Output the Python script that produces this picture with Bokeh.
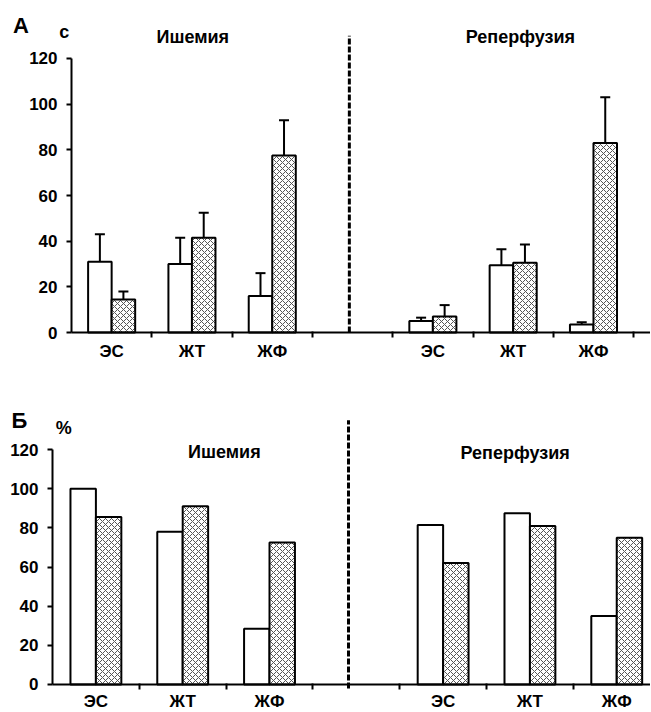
from bokeh.plotting import figure
from bokeh.models import (ColumnDataSource, FixedTicker, Label, Whisker, TeeHead,
                          LinearAxis)
from bokeh.layouts import column
from bokeh.embed import file_html
from bokeh.resources import INLINE

# ---- data ----
categories = ["ЭС", "ЖТ", "ЖФ"]
phases = ["Ишемия", "Реперфузия"]
slots = [0, 1, 2, 4, 5, 6]          # category slot index (slot 3 is the gap)

# Panel A: duration, s (mean and mean+error)
a_white = [31, 30, 16, 5, 29.5, 3.5]
a_white_err = [43, 41.5, 26, 6.5, 36.5, 4.5]
a_hatch = [14.5, 41.5, 77.5, 7, 30.5, 83]
a_hatch_err = [18, 52.5, 93, 12, 38.5, 103]

# Panel B: incidence, %
b_white = [100, 78, 28.5, 81.5, 87.5, 35]
b_hatch = [85.5, 91, 72.5, 62, 81, 75]

y_ticks = [0, 20, 40, 60, 80, 100, 120]

FONT = "Liberation Sans"
BW = 0.293
W = 650


def make_panel(white, hatch, white_err, hatch_err, height, x_range, y_range,
               x_bound, letter, unit, letter_pos, unit_pos, title_pos,
               divider_x, divider_y, label_standoff):
    p = figure(width=W, height=height, x_range=x_range, y_range=y_range,
               output_backend="svg", toolbar_location=None,
               x_axis_location=None, y_axis_location=None,
               min_border=0, min_border_left=0, min_border_right=0,
               min_border_top=0, min_border_bottom=0)
    p.grid.visible = False
    p.outline_line_color = None
    p.background_fill_color = "white"
    p.border_fill_color = "white"

    centers = [s + 0.5 for s in slots]
    xw = [c - BW / 2 for c in centers]
    xh = [c + BW / 2 for c in centers]

    p.vbar(x=xw, top=white, width=BW, bottom=0, fill_color="white",
           line_color="black", line_width=2)
    p.vbar(x=xh, top=hatch, width=BW, bottom=0, fill_color="white",
           hatch_pattern="diagonal_cross", hatch_color="#555555",
           hatch_scale=6, hatch_weight=1, line_color="black", line_width=2)

    if white_err is not None:
        for xs, lo, hi in ((xw, white, white_err), (xh, hatch, hatch_err)):
            src = ColumnDataSource(dict(x=xs, lower=lo, upper=hi))
            w = Whisker(source=src, base="x", lower="lower", upper="upper",
                        line_color="black", line_width=2,
                        upper_head=TeeHead(size=10, line_color="black", line_width=2),
                        lower_head=None)
            p.add_layout(w)

    # dashed divider
    p.segment(x0=[divider_x], y0=[divider_y[0]], x1=[divider_x], y1=[divider_y[1]],
              line_color="black", line_width=3, line_dash="6 2")

    # axes fixed at data zero
    xa = LinearAxis(fixed_location=0, bounds=(0, x_bound))
    xa.ticker = FixedTicker(ticks=centers, minor_ticks=list(range(1, 8)))
    xa.major_label_overrides = {c: categories[i % 3] for i, c in enumerate(centers)}
    xa.major_tick_line_color = None
    xa.minor_tick_out = 5
    xa.minor_tick_in = 1
    xa.minor_tick_line_width = 2
    xa.axis_line_width = 2
    xa.axis_line_color = "black"
    xa.major_label_text_font = FONT
    xa.major_label_text_font_style = "bold"
    xa.major_label_text_font_size = "17px"
    xa.major_label_text_color = "black"
    xa.major_label_standoff = label_standoff
    p.add_layout(xa, "below")

    ya = LinearAxis(fixed_location=0, bounds=(0, 120))
    ya.ticker = FixedTicker(ticks=y_ticks)
    ya.minor_tick_line_color = None
    ya.major_tick_out = 5
    ya.major_tick_in = 0
    ya.major_tick_line_width = 2
    ya.axis_line_width = 2
    ya.axis_line_color = "black"
    ya.major_label_text_font = FONT
    ya.major_label_text_font_style = "bold"
    ya.major_label_text_font_size = "17px"
    ya.major_label_text_color = "black"
    ya.major_label_standoff = 9
    p.add_layout(ya, "left")

    p.add_layout(Label(x=letter_pos[0], y=letter_pos[1], text=letter,
                       text_font=FONT, text_font_style="bold", text_font_size="22px",
                       text_color="black",
                       text_align="center", text_baseline="middle"))
    p.add_layout(Label(x=unit_pos[0], y=unit_pos[1], text=unit,
                       text_font=FONT, text_font_size="18px", text_font_style="bold",
                       text_color="black",
                       text_align="center", text_baseline="middle"))
    for name, (tx, ty) in zip(phases, title_pos):
        p.add_layout(Label(x=tx, y=ty, text=name, text_font=FONT,
                           text_font_style="bold", text_font_size="18px",
                           text_color="black",
                           text_align="center", text_baseline="middle"))
    return p


# Panel A: page x = 71 + 80.3*d, page y = 332 - 2.283*v, height 365
pa = make_panel(a_white, a_hatch, a_white_err, a_hatch_err, height=365,
                x_range=(-0.884, 7.21), y_range=(-14.45, 145.4), x_bound=7.21,
                letter="А", unit="с",
                letter_pos=(-0.63, 134.5), unit_pos=(-0.09, 131.5),
                title_pos=[(1.51, 129.2), (5.59, 129.2)],
                divider_x=3.46, divider_y=(0, 130), label_standoff=3)

# Panel B: page x = 52 + 86.8*d, page y(from 365) = 684 - 1.958*v, height 347
pb = make_panel(b_white, b_hatch, None, None, height=347,
                x_range=(-0.599, 6.889), y_range=(-14.3, 162.9), x_bound=6.889,
                letter="Б", unit="%",
                letter_pos=(-0.38, 134.8), unit_pos=(0.13, 131),
                title_pos=[(1.98, 118.5), (5.33, 118)],
                divider_x=3.41, divider_y=(-2, 135), label_standoff=2)

layout = column(pa, pb, spacing=0)
open("out.html", "w").write(file_html(layout, INLINE))
